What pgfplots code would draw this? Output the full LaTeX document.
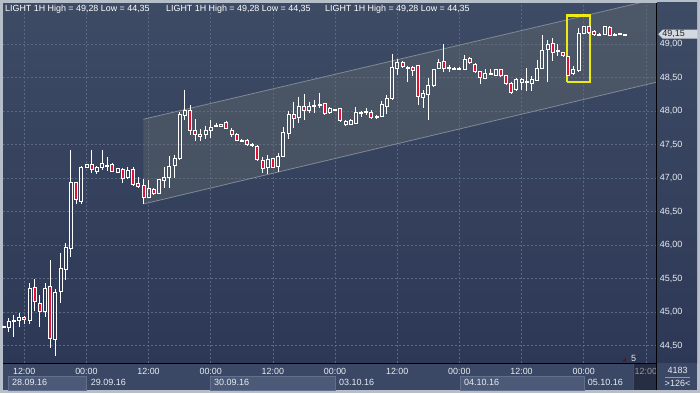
\documentclass[border=0pt]{standalone}
\usepackage{fontspec}
\setmainfont{Liberation Sans}
\usepackage{pgfplots}
\pgfplotsset{compat=1.18}
\usepackage{pgfplotstable}
\definecolor{bgtop}{RGB}{62,75,101}
\definecolor{bgbot}{RGB}{44,56,85}
\definecolor{gridc}{RGB}{90,104,132}
\definecolor{candlered}{RGB}{222,18,52}
\definecolor{chanfill}{RGB}{108,116,110}
\definecolor{chanline}{RGB}{128,138,150}
\definecolor{framec}{RGB}{182,190,202}
\definecolor{panel}{RGB}{58,72,102}
\definecolor{datebox}{RGB}{76,90,120}
\definecolor{dateboxline}{RGB}{98,112,142}
\definecolor{txt}{RGB}{232,236,242}
\definecolor{tagc}{RGB}{212,216,224}
\definecolor{hl}{RGB}{236,236,20}

\pgfplotstableread{
x o h l c
-16 44.78 44.80 44.77 44.79
-15 44.77 44.91 44.70 44.86
-14 44.86 44.96 44.63 44.88
-13 44.88 44.985 44.78 44.93
-12 44.925 44.95 44.83 44.89
-11 44.875 45.43 44.83 45.36
-10 45.37 45.49 45.02 45.16
-9 45.13 45.26 44.78 45.01
-8 45.01 45.43 44.93 45.36
-7 45.38 45.78 44.47 44.61
-6 44.59 45.34 44.35 45.30
-5 45.31 45.88 45.14 45.66
-4 45.64 46.03 45.48 45.97
-3 45.96 47.42 45.82 46.94
-2 46.94 46.95 46.61 46.68
-1 46.65 47.18 46.62 47.165
0 47.17 47.22 47.16 47.21
1 47.21 47.42 47.08 47.13
2 47.11 47.18 47.07 47.165
3 47.17 47.42 47.12 47.22
4 47.19 47.32 47.11 47.20
5 47.21 47.23 47.09 47.11
6 47.09 47.15 47.08 47.15
7 47.13 47.16 46.93 47.00
8 47.01 47.17 47.00 47.12
9 47.13 47.17 46.885 46.91
10 46.925 47.02 46.85 46.88
11 46.90 46.985 46.61 46.72
12 46.72 46.975 46.70 46.85
13 46.84 46.85 46.75 46.78
14 46.78 46.99 46.77 46.985
15 46.965 47.17 46.85 47.015
16 47.02 47.33 46.85 47.18
17 47.20 47.35 47.00 47.30
18 47.30 47.99 47.28 47.96
19 47.94 48.32 47.87 48.02
20 48.02 48.09 47.65 47.72
21 47.71 47.88 47.55 47.65
22 47.62 47.73 47.55 47.66
23 47.66 47.78 47.59 47.72
24 47.72 47.87 47.60 47.76
25 47.78 47.83 47.76 47.79
26 47.77 47.81 47.77 47.81
27 47.83 47.86 47.73 47.75
28 47.72 47.75 47.62 47.66
29 47.66 47.67 47.55 47.57
30 47.57 47.59 47.55 47.56
31 47.57 47.58 47.48 47.50
32 47.51 47.53 47.47 47.49
33 47.48 47.50 47.27 47.28
34 47.27 47.32 47.08 47.15
35 47.16 47.35 47.06 47.28
36 47.30 47.31 47.16 47.17
37 47.18 47.37 47.10 47.32
38 47.33 47.77 47.32 47.68
39 47.67 48.01 47.58 47.96
40 47.955 48.14 47.75 47.895
41 47.91 48.22 47.82 48.08
42 48.08 48.26 47.87 48.02
43 48.02 48.14 47.97 48.08
44 48.08 48.17 47.97 48.09
45 48.09 48.28 48.045 48.10
46 48.12 48.13 47.945 47.97
47 47.98 48.06 47.97 48.045
48 48.02 48.04 48.01 48.03
49 48.045 48.05 47.845 47.86
50 47.80 47.87 47.78 47.855
51 47.81 47.88 47.80 47.87
52 47.82 48.07 47.82 47.99
53 47.97 48.01 47.91 47.98
54 47.99 48.045 47.945 48.00
55 47.99 48.02 47.885 47.91
56 47.91 47.94 47.90 47.92
57 47.93 48.15 47.92 48.10
58 48.08 48.24 47.96 48.19
59 48.19 48.855 48.18 48.66
60 48.64 48.78 48.54 48.73
61 48.73 48.755 48.64 48.67
62 48.66 48.68 48.44 48.65
63 48.66 48.68 48.53 48.61
64 48.68 48.68 48.09 48.22
65 48.21 48.32 48.045 48.27
66 48.25 48.49 47.87 48.38
67 48.38 48.63 48.37 48.63
68 48.64 48.775 48.63 48.73
69 48.74 49.00 48.58 48.64
70 48.64 48.69 48.58 48.65
71 48.64 48.66 48.62 48.645
72 48.645 48.66 48.62 48.635
73 48.63 48.84 48.62 48.78
74 48.79 48.805 48.71 48.73
75 48.70 48.72 48.57 48.59
76 48.59 48.605 48.41 48.50
77 48.49 48.63 48.48 48.56
78 48.565 48.63 48.54 48.57
79 48.54 48.63 48.53 48.62
80 48.62 48.63 48.52 48.53
81 48.54 48.54 48.40 48.41
82 48.41 48.44 48.26 48.28
83 48.32 48.50 48.30 48.47
84 48.43 48.50 48.32 48.47
85 48.44 48.64 48.31 48.45
86 48.42 48.52 48.31 48.47
87 48.46 48.77 48.455 48.64
88 48.64 49.14 48.63 48.915
89 48.925 49.06 48.44 49.00
90 49.015 49.09 48.755 48.875
91 48.90 49.00 48.825 48.91
92 48.88 48.885 48.82 48.83
93 48.815 48.82 48.54 48.54
94 48.56 48.67 48.555 48.62
95 48.605 49.24 48.60 49.17
96 49.17 49.28 49.16 49.27
97 49.26 49.27 49.16 49.18
98 49.20 49.21 49.13 49.15
99 49.15 49.17 49.14 49.155
100 49.15 49.28 49.14 49.26
101 49.25 49.27 49.13 49.14
102 49.15 49.17 49.13 49.15
103 49.16 49.165 49.145 49.15
104 49.15 49.15 49.15 49.15
}\candles

\pgfdeclareplotmark{nothing}{}

\pgfplotsset{
  candle/.style={
    scatter, only marks, mark=nothing,
    visualization depends on={\thisrow{o}\as\cO},
    visualization depends on={\thisrow{h}\as\cH},
    visualization depends on={\thisrow{l}\as\cL},
    visualization depends on={\thisrow{c}\as\cC},
    scatter/@pre marker code/.code={%
      \pgfmathsetmacro\cBt{(\cH-max(\cO,\cC))*67}%
      \pgfmathsetmacro\cBb{max((\cH-min(\cO,\cC))*67,\cBt+1.0)}%
      \pgfmathsetmacro\cWb{max((\cH-\cL)*67,\cBb)}%
      \draw[white, line width=0.8pt] (0pt,0pt) -- (0pt,-\cBt pt);
      \draw[white, line width=0.8pt] (0pt,-\cBb pt) -- (0pt,-\cWb pt);
      \ifdim\cO pt>\cC pt
        \filldraw[draw=white, fill=candlered, line width=0.75pt] (-1.5pt,-\cBt pt) rectangle (1.5pt,-\cBb pt);
      \else
        \draw[white, line width=0.75pt] (-1.5pt,-\cBt pt) rectangle (1.5pt,-\cBb pt);
      \fi
    },
    scatter/@post marker code/.code={},
  }
}

\begin{document}
\begin{tikzpicture}
\path[use as bounding box] (0pt,0pt) rectangle (700pt,393pt);
\fill[framec] (0pt,0pt) rectangle (700pt,393pt);
% right panel
\shade[top color=bgtop, bottom color=bgbot] (657pt,30pt) rectangle (697pt,390pt);
\fill[panel] (657pt,3pt) rectangle (697pt,30pt);
% bottom panel
\fill[panel] (3pt,3pt) rectangle (657pt,30pt);
\foreach \a/\b in {8/86,210/335,460/584}{
  \filldraw[fill=datebox, draw=dateboxline, line width=0.6pt] (\a pt,3pt) rectangle (\b pt,16.3pt);
}

\begin{axis}[
  at={(3pt,30pt)}, anchor=south west,
  x=5.18pt, y=67pt,
  xmin=-16.1, xmax=110.2, ymin=44.243, ymax=49.616,
  enlargelimits=false,
  axis background/.style={top color=bgtop, bottom color=bgbot},
  axis line style={draw=none},
  major tick length=0pt,
  xtick={-12,0,12,24,36,48,60,72,84,96,108},
  xticklabels={12:00,00:00,12:00,00:00,12:00,00:00,12:00,00:00,12:00,00:00,12:00},
  xticklabel style={font=\fontsize{8.9}{9}\selectfont, text=txt, anchor=center, inner sep=0pt, yshift=-8.7pt},
  ytick={44.5,45,45.5,46,46.5,47,47.5,48,48.5,49},
  yticklabel pos=right,
  yticklabel style={font=\fontsize{9}{10}\selectfont, text=txt, anchor=west, inner sep=0pt, xshift=2.4pt},
  /pgf/number format/fixed,
  /pgf/number format/fixed zerofill,
  /pgf/number format/precision=2,
  /pgf/number format/use comma,
  /pgf/number format/assume math mode=true,
  grid=major,
  major grid style={gridc, dash pattern=on 2pt off 2pt, line width=0.6pt},
]
% channel
\addplot[draw=none, fill=chanfill, fill opacity=0.32] coordinates {(11,46.616) (110.2,48.437) (110.2,49.68) (11,47.881) (11,46.616)};
\addplot[chanline, line width=0.8pt] coordinates {(11,47.881) (110.2,49.68)};
\addplot[chanline, line width=0.8pt] coordinates {(11,46.616) (110.2,48.437)};
% candles
\addplot[candle] table[x=x, y=h] {\candles};
% highlight box
\addplot[hl, line width=2.4pt, line join=miter] coordinates {(92.8,48.44) (97.2,48.44) (97.2,49.43) (92.8,49.43) (92.8,48.44)};
\coordinate (tagpt) at (axis cs:110.2,49.15);
\end{axis}

% separators
\draw[black, line width=1pt] (656.7pt,3pt) -- (656.7pt,390pt);
\draw[black, line width=1pt] (3pt,30pt) -- (657pt,30pt);
% covered 12:00 area
\fill[black, opacity=0.35] (633pt,3pt) rectangle (656pt,29.5pt);
\draw[dateboxline!70!black, line width=0.5pt] (633pt,3pt) -- (633pt,29.5pt);
% dates
\foreach \a/\t in {12/28.09.16,90.6/29.09.16,214/30.09.16,339/03.10.16,464/04.10.16,587.7/05.10.16}{
  \node[anchor=west, inner sep=0pt, text=txt, font=\fontsize{9}{10}\selectfont] at (\a pt,10.5pt) {\t};
}
% titles
\foreach \a in {5,166,325}{
  \node[anchor=west, inner sep=0pt, text=white, font=\fontsize{8.9}{9}\selectfont] at (\a pt,384pt) {LIGHT 1H High = 49,28 Low = 44,35};
}
% price tag
\fill[tagc] ([xshift=1pt]tagpt) -- ++(4.5pt,4.5pt) -- ++(35pt,0pt) -- ++(0pt,-9pt) -- ++(-35pt,0pt) -- cycle;
\node[anchor=west, inner sep=0pt, text=black!85, font=\fontsize{9}{10}\selectfont] at ([xshift=5pt]tagpt) {49,15};
% bottom right box
\node[text=txt, font=\fontsize{9}{10}\selectfont] at (677.7pt,22.7pt) {4183};
\draw[txt!50!panel, line width=0.5pt] (665pt,16pt) -- (690pt,16pt);
\node[text=txt, font=\fontsize{9}{10}\selectfont] at (677.5pt,9.5pt) {>126<};
% small marker and 5
\fill[black!50!red, opacity=0.7] (622pt,31.5pt) -- (626pt,31.5pt) -- (626pt,35.5pt) -- cycle;
\node[text=txt, font=\fontsize{9}{10}\selectfont, inner sep=0pt] at (633.5pt,34.5pt) {5};
\end{tikzpicture}
\end{document}
